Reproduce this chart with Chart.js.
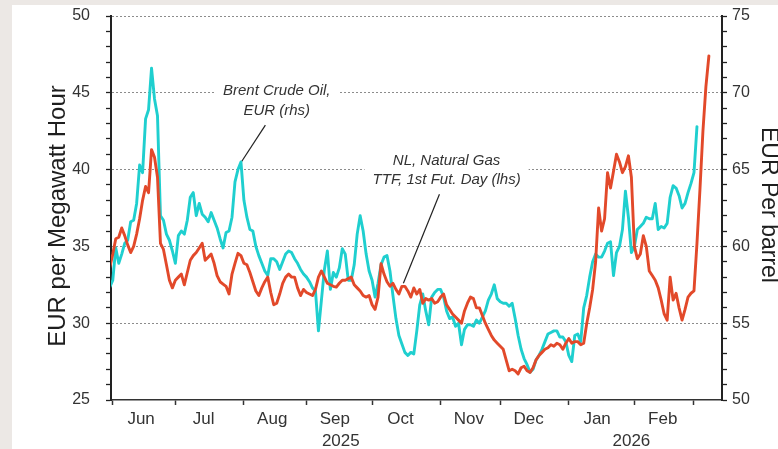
<!DOCTYPE html>
<html>
<head>
<meta charset="utf-8">
<script src="https://cdn.jsdelivr.net/npm/chart.js@4/dist/chart.umd.min.js"></script>
<style>
  html, body { margin: 0; padding: 0; background: #ece8e5; }
  canvas { display: block; }
</style>
</head>
<body>
<canvas id="chart" width="778" height="449"></canvas>
<script>
// ---- DATA -------------------------------------------------------------
// x = trading-day index (0 = Mon 2 Jun 2025); first observation is day -1
const firstTradingDay = -1;

// NL Natural Gas TTF, 1st futures, EUR per MWh (left axis)
const ttfGas = [
  33.65, 34.5, 35.5, 35.6, 36.2, 35.7, 35.1, 34.6, 35.0, 35.8,
  36.8, 38.0, 38.9, 38.5, 41.3, 40.8, 39.5, 35.2, 34.8, 33.8,
  32.8, 32.3, 32.8, 33.0, 33.2, 32.5, 33.3, 34.1, 34.4, 34.6,
  34.9, 35.2, 34.1, 34.3, 34.5, 33.9, 33.1, 32.7, 32.55, 32.4,
  31.9, 33.2, 33.9, 34.55, 34.4, 33.9, 33.8, 33.3, 32.7, 32.1,
  31.8, 32.3, 32.7, 33.0, 32.0, 31.2, 31.3, 31.9, 32.6, 33.0,
  33.2, 33.0, 33.0, 32.3, 31.8, 32.2, 32.0, 31.9, 31.8, 32.2,
  33.0, 33.4, 33.0, 32.6, 32.5, 32.4, 32.35, 32.6, 32.8, 32.8,
  32.9, 33.0, 32.5, 32.3, 32.1, 31.8, 31.7, 31.8, 31.2, 30.9,
  31.7, 33.87, 33.2, 32.7, 32.4, 32.6, 32.2, 31.9, 32.4, 32.4,
  32.1, 31.7, 32.3, 31.9, 32.2, 31.3, 31.6, 31.5, 31.6, 31.3,
  31.4, 31.7, 31.9, 31.2, 30.9, 30.6, 30.4, 30.2, 30.0, 30.8,
  31.3, 31.7, 31.6, 31.0, 31.0, 30.5, 30.0, 29.6, 29.2, 28.9,
  28.7, 28.5, 28.3, 27.6, 26.9, 27.0, 26.9, 26.7, 27.1, 27.2,
  26.9, 26.8, 27.1, 27.6, 27.9, 28.1, 28.3, 28.4, 28.6, 28.5,
  28.7, 28.6, 28.3, 28.7, 29.0, 28.7, 28.8, 28.8, 28.6, 28.7,
  29.96, 31.0, 32.2, 34.0, 37.5, 36.0, 36.8, 39.8, 38.8, 39.9,
  41.0, 40.5, 39.8, 40.2, 40.9, 39.5, 35.0, 34.2, 34.5, 35.7,
  35.0, 33.4, 33.1, 32.8, 32.3, 31.5, 30.6, 30.2, 33.0, 31.5,
  31.95, 31.0, 30.2, 30.9, 31.7, 31.95, 32.1, 35.2, 38.7, 42.5,
  45.4, 47.4
];

// Brent Crude Oil, EUR per barrel (right axis)
const brentEur = [
  57.35, 57.8, 59.9, 58.9, 59.5, 60.2, 60.4, 61.6, 61.7, 62.8,
  65.3, 64.8, 68.3, 68.9, 71.6, 69.6, 68.5, 62.0, 61.7, 60.8,
  60.4, 59.7, 58.9, 60.7, 61.0, 60.8, 61.7, 63.2, 63.5, 62.0,
  62.8, 62.1, 61.9, 61.6, 62.2, 61.7, 61.2, 60.5, 59.9, 60.9,
  61.0, 61.9, 64.2, 65.0, 65.5, 63.0, 61.9, 61.1, 61.0, 60.0,
  59.4, 58.9, 58.4, 58.1, 59.2, 59.2, 59.0, 58.5, 59.0, 59.5,
  59.7, 59.6, 59.2, 58.9, 58.5, 58.2, 58.0, 57.7, 57.3, 57.1,
  54.5, 56.5, 58.5, 59.7, 57.2, 58.3, 58.0, 58.6, 59.85, 59.5,
  57.8, 57.8, 58.8, 60.8, 62.0, 61.0, 59.5, 58.4, 57.8, 56.7,
  57.6, 58.8, 59.3, 59.4, 58.4, 56.8, 55.3, 54.2, 53.65, 53.1,
  52.9, 53.1, 53.0, 54.5, 56.2, 56.9, 55.8, 54.9, 56.7, 57.0,
  57.2, 57.2, 56.7, 55.8, 55.3, 55.4, 54.8, 55.0, 53.6, 54.6,
  54.9, 54.9, 54.8, 55.2, 55.0, 55.4, 55.8, 56.5, 56.9, 57.5,
  56.6, 56.4, 56.3, 56.3, 56.1, 56.3, 55.3, 54.2, 53.3, 52.7,
  52.3, 51.8, 52.0, 52.6, 52.9, 53.3, 53.8, 54.3, 54.4, 54.5,
  54.5, 54.1, 54.1, 53.8, 52.9, 52.5, 54.2, 54.3, 53.8, 56.0,
  56.8, 58.0, 59.0, 59.5, 59.3, 59.3, 59.7, 60.2, 60.3, 58.1,
  59.6, 60.0, 61.1, 63.6, 61.9, 59.6, 60.0, 61.1, 61.3, 61.5,
  61.9, 61.8, 61.8, 62.8, 61.1, 61.3, 61.2, 61.5, 63.2, 63.95,
  63.8, 63.3, 62.5, 62.8, 63.5, 64.1, 64.8, 67.8
];

// trading-day index of the first trading day of each month (Jun 2025 .. Mar 2026)
const monthStartDay = [0, 21, 44, 65, 87, 110, 130, 153, 175, 195];
const monthLabels = ['Jun', 'Jul', 'Aug', 'Sep', 'Oct', 'Nov', 'Dec', 'Jan', 'Feb'];
const yearLabels = ['2025', '2026'];
const yearFirstMonth = [0, 7];   // index into monthStartDay
const yearLastMonth = [7, 9];

const leftAxis = { min: 25, max: 50, major: 5 };
const rightAxis = { min: 50, max: 75, major: 5 };
const xRange = { min: -0.6, max: 204.4 };

const leftTitle = 'EUR per Megawatt Hour';
const rightTitle = 'EUR Per barrel';

const notes = [
  { lines: ['Brent Crude Oil,', 'EUR (rhs)'], at: [55, 45.1], from: [51.2, 42.9], to: [42.8, 40.4] },
  { lines: ['NL, Natural Gas', 'TTF, 1st Fut. Day (lhs)'], at: [112, 40.6], from: [109.6, 38.4], to: [97.5, 32.6] }
];

// ---- CHART ------------------------------------------------------------
const FONT = '"Liberation Sans", Arial, Helvetica, sans-serif';
Chart.defaults.font.family = FONT;
Chart.defaults.color = '#333';

function tickRange(a) {
  const t = [];
  for (let v = a.min; v <= a.max; v++) t.push({ value: v });
  return t;
}

const bgPlugin = {
  id: 'bgPanel',
  beforeDraw(chart) {
    const { ctx, width, height } = chart;
    ctx.save();
    ctx.fillStyle = '#ece8e5';
    ctx.fillRect(0, 0, width, height);
    ctx.fillStyle = '#ffffff';
    ctx.fillRect(12, 5, width - 12, height - 5);
    ctx.restore();
  }
};

const notesPlugin = {
  id: 'notes',
  beforeDatasetsDraw(chart) {
    const { ctx, scales } = chart;
    const xs = scales.x, ys = scales.y;
    ctx.save();
    ctx.font = 'italic 15px ' + FONT;
    ctx.textAlign = 'center';
    ctx.textBaseline = 'middle';
    const lh = 19.5;
    notes.forEach(n => {
      const cx = xs.getPixelForValue(n.at[0]);
      const cy = ys.getPixelForValue(n.at[1]);
      const w = Math.max(...n.lines.map(l => ctx.measureText(l).width)) + 16;
      const h = lh * n.lines.length;
      ctx.fillStyle = '#ffffff';
      ctx.fillRect(cx - w / 2, cy - lh / 2 - 2, w, h);
      ctx.fillStyle = '#333';
      n.lines.forEach((l, i) => ctx.fillText(l, cx, cy + i * lh));
      ctx.strokeStyle = '#222';
      ctx.lineWidth = 1.2;
      ctx.beginPath();
      ctx.moveTo(xs.getPixelForValue(n.from[0]), ys.getPixelForValue(n.from[1]));
      ctx.lineTo(xs.getPixelForValue(n.to[0]), ys.getPixelForValue(n.to[1]));
      ctx.stroke();
    });
    ctx.restore();
  }
};

const titlesPlugin = {
  id: 'axisTitles',
  afterDraw(chart) {
    const { ctx, chartArea: a } = chart;
    const mid = (a.top + a.bottom) / 2;
    ctx.save();
    ctx.fillStyle = '#1e1e1e';
    ctx.textAlign = 'center';
    ctx.textBaseline = 'middle';
    ctx.font = '24px ' + FONT;
    ctx.translate(58, mid + 8);
    ctx.rotate(-Math.PI / 2);
    ctx.fillText(leftTitle, 0, 0);
    ctx.restore();
    ctx.save();
    ctx.fillStyle = '#1e1e1e';
    ctx.textAlign = 'center';
    ctx.textBaseline = 'middle';
    ctx.font = '23px ' + FONT;
    ctx.translate(a.right + 46, mid - 3);
    ctx.rotate(Math.PI / 2);
    ctx.fillText(rightTitle, 0, 0);
    ctx.restore();
  }
};

const toPoints = arr => arr.map((v, i) => ({ x: firstTradingDay + i, y: v }));

new Chart(document.getElementById('chart'), {
  type: 'line',
  data: {
    datasets: [
      {
        label: 'Brent Crude Oil, EUR (rhs)',
        data: toPoints(brentEur),
        xAxisID: 'x', yAxisID: 'y2',
        borderColor: '#1fcfcf', borderWidth: 2.9,
        pointRadius: 0, tension: 0, fill: false,
        borderJoinStyle: 'round', borderCapStyle: 'round',
        order: 2
      },
      {
        label: 'NL, Natural Gas TTF, 1st Fut. Day (lhs)',
        data: toPoints(ttfGas),
        xAxisID: 'x', yAxisID: 'y',
        borderColor: '#e2492a', borderWidth: 2.9,
        pointRadius: 0, tension: 0, fill: false,
        borderJoinStyle: 'round', borderCapStyle: 'round',
        order: 1
      }
    ]
  },
  options: {
    responsive: false,
    animation: false,
    devicePixelRatio: 1,
    layout: { padding: { top: 16, left: 0, right: 0, bottom: 0 } },
    plugins: { legend: { display: false }, tooltip: { enabled: false }, title: { display: false } },
    scales: {
      x: {
        type: 'linear', axis: 'x', position: 'bottom', weight: 0,
        min: xRange.min, max: xRange.max,
        afterBuildTicks: s => { s.ticks = monthStartDay.map(v => ({ value: v })); },
        ticks: { display: false, autoSkip: false },
        grid: { drawOnChartArea: false, drawTicks: true, tickLength: 5, tickColor: '#333', tickWidth: 1.5 },
        border: { display: true, color: '#333', width: 1.5 },
        afterFit: s => { s.height = 5; s.paddingLeft = 0; s.paddingRight = 0; }
      },
      xm: {
        type: 'linear', axis: 'x', position: 'bottom', weight: 1,
        min: xRange.min, max: xRange.max,
        afterBuildTicks: s => { s.ticks = monthLabels.map((m, i) => ({ value: monthStartDay[i] + 9.5 })); },
        ticks: {
          autoSkip: false, maxRotation: 0, minRotation: 0, padding: 4,
          color: '#333', font: { size: 17 },
          callback: (v, i) => monthLabels[i]
        },
        grid: { display: false, drawTicks: false },
        border: { display: false },
        afterFit: s => { s.height = 22; s.paddingLeft = 0; s.paddingRight = 0; }
      },
      xy: {
        type: 'linear', axis: 'x', position: 'bottom', weight: 2,
        min: xRange.min, max: xRange.max,
        afterBuildTicks: s => {
          s.ticks = yearLabels.map((y, i) => ({
            value: (monthStartDay[yearFirstMonth[i]] + monthStartDay[yearLastMonth[i]]) / 2
          }));
        },
        ticks: {
          autoSkip: false, maxRotation: 0, minRotation: 0, padding: 4,
          color: '#333', font: { size: 17 },
          callback: (v, i) => yearLabels[i]
        },
        grid: { display: false, drawTicks: false },
        border: { display: false },
        afterFit: s => { s.height = 22; s.paddingLeft = 0; s.paddingRight = 0; }
      },
      y: {
        type: 'linear', axis: 'y', position: 'left',
        min: leftAxis.min, max: leftAxis.max,
        afterBuildTicks: s => { s.ticks = tickRange(leftAxis); },
        ticks: {
          autoSkip: false, padding: 16, color: '#333', font: { size: 16 },
          callback: v => (v % leftAxis.major === 0 ? String(v) : '')
        },
        grid: {
          drawOnChartArea: true, drawTicks: true, tickLength: 5,
          color: c => (c.tick && c.tick.value % leftAxis.major === 0 && c.tick.value !== leftAxis.min) ? '#8c8c8c' : 'rgba(0,0,0,0)',
          lineWidth: 1, tickColor: '#222', tickWidth: 1.3
        },
        border: { display: true, color: '#222', width: 2, dash: [2, 2] },
        afterFit: s => { s.width = 111; s.paddingTop = 0; s.paddingBottom = 0; }
      },
      y2: {
        type: 'linear', axis: 'y', position: 'right',
        min: rightAxis.min, max: rightAxis.max,
        afterBuildTicks: s => { s.ticks = tickRange(rightAxis); },
        ticks: {
          autoSkip: false, padding: 5, color: '#333', font: { size: 16 },
          callback: v => (v % rightAxis.major === 0 ? String(v) : '')
        },
        grid: { drawOnChartArea: false, drawTicks: true, tickLength: 5, tickColor: '#222', tickWidth: 1.3 },
        border: { display: true, color: '#222', width: 2 },
        afterFit: s => { s.width = 56; s.paddingTop = 0; s.paddingBottom = 0; }
      }
    }
  },
  plugins: [bgPlugin, notesPlugin, titlesPlugin]
});
</script>
</body>
</html>
